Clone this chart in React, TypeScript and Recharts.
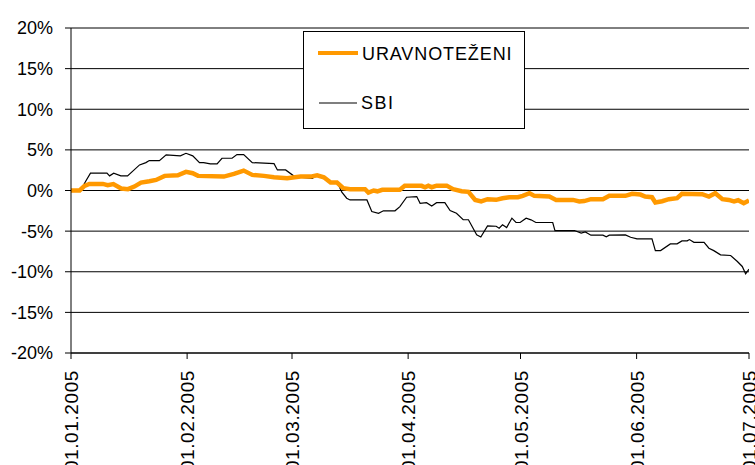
import React from 'react';
import { LineChart, Line, XAxis, YAxis, CartesianGrid, Legend } from 'recharts';

// Days since 01.01.2005 and cumulative returns (%)
const sbiDays = [
  0, 2.5, 4, 5.2, 9.6, 10.3, 11.4, 13.3, 15.1, 18.3,
  20, 20.9, 23.6, 25.4, 29.2, 30.7, 32.5, 34.3, 35.4, 37.2,
  39, 40.3, 43, 44.3, 46.1, 48.4, 54.2, 55.1, 57.3, 59.7,
  64.4, 65.7, 67.5, 69.3, 71, 72.3, 73.6, 74.5, 79, 80.3,
  82.1, 83.4, 86.5, 87.8, 89.6, 92.3, 93.2, 94.9, 96.3, 97.6,
  99.8, 101.2, 102.9, 104.7, 106.1, 108.3, 109.4, 111.2, 113.5, 114.3,
  115.2, 116.3, 117.7, 118.8, 119.9, 121.5, 122.8, 124.1, 128.6, 129.2,
  134.4, 136.2, 137.3, 138.8, 142, 142.9, 143.7, 148, 149.4, 151.1,
  155.1, 156, 157.4, 160, 161.8, 163.1, 164.5, 165.1, 166.3, 169,
  170.3, 171.6, 173.4, 176.1, 177.9, 179.2, 180.1, 181,
];
const sbiReturns = [
  0, 0, 1.2, 2.13, 2.13, 1.8, 2.13, 1.8, 1.8, 3.15,
  3.43, 3.68, 3.68, 4.38, 4.26, 4.58, 4.26, 3.43, 3.43, 3.27,
  3.27, 3.97, 3.97, 4.42, 4.42, 3.43, 3.3, 2.53, 2.53, 1.71,
  1.5, 1.88, 1.5, 1.1, 1.1, -0.2, -0.95, -1.16, -1.16, -2.59,
  -2.8, -2.5, -2.5, -1.98, -0.83, -0.75, -1.57, -1.5, -1.9, -1.5,
  -1.5, -2.47, -2.8, -3.6, -3.6, -5.46, -5.72, -4.35, -4.4, -4.64,
  -4.23, -4.56, -3.41, -3.94, -3.94, -3.41, -3.61, -3.94, -3.94, -4.93,
  -4.93, -5.25, -5.1, -5.5, -5.5, -5.7, -5.5, -5.46, -5.75, -5.95,
  -5.95, -7.39, -7.39, -6.57, -6.57, -6.2, -6.2, -6.04, -6.38, -6.38,
  -7.1, -7.4, -7.92, -8.0, -8.74, -9.35, -10.25, -9.68,
];

const uravDays = [
  0, 2.3, 3.6, 4.9, 8.5, 9.8, 11.3, 13.4, 15.2, 16.9,
  18.7, 20.9, 22.7, 25, 28.5, 30.7, 32.5, 33.9, 40.8, 43.5,
  46.1, 48.4, 51.5, 54.2, 57.7, 61.3, 64, 65.7, 67.5, 69.3,
  71, 72.7, 74.5, 78.5, 79.4, 80.8, 81.8, 83.1, 87.8, 89.1,
  93.6, 94.5, 95.4, 96.3, 97.6, 100.3, 102, 104.3, 106.1, 107.9,
  109.5, 111.2, 113.5, 115.2, 117, 119.3, 120.6, 122.4, 123.7, 127.7,
  129.5, 134, 135.7, 137, 138.8, 142, 143.7, 148, 149.8, 152,
  153.3, 155.1, 156, 157.8, 159.6, 161.8, 163.1, 168.5, 170.3, 172,
  173.9, 175.6, 177, 178.1, 179.6, 181,
];
const uravReturns = [
  0, 0, 0.57, 0.81, 0.81, 0.66, 0.8, 0.24, 0.16, 0.48,
  0.97, 1.14, 1.3, 1.8, 1.88, 2.29, 2.13, 1.8, 1.71, 2.04,
  2.45, 1.92, 1.8, 1.63, 1.51, 1.71, 1.71, 1.88, 1.63, 0.97,
  0.97, 0.28, 0.16, 0.16, -0.25, 0, -0.1, 0.08, 0.08, 0.57,
  0.57, 0.4, 0.6, 0.4, 0.6, 0.6, 0.16, -0.08, -0.16, -1.16,
  -1.35, -1.07, -1.15, -0.95, -0.83, -0.83, -0.66, -0.33, -0.66, -0.75,
  -1.16, -1.16, -1.35, -1.3, -1.07, -1.07, -0.66, -0.66, -0.41, -0.5,
  -0.75, -0.83, -1.48, -1.32, -1.07, -0.95, -0.41, -0.45, -0.75, -0.33,
  -1.07, -1.16, -1.35, -1.2, -1.57, -1.24,
];

const tickDays = [0, 31, 59, 90, 120, 151, 181];
const tickLabels = ['01.01.2005', '01.02.2005', '01.03.2005', '01.04.2005', '01.05.2005', '01.06.2005', '01.07.2005'];
const yTicks = [-20, -15, -10, -5, 0, 5, 10, 15, 20];

const seriesNames = ['URAVNOTEŽENI', 'SBI'];

const sbiData = sbiDays.map((d, i) => ({ d, v: sbiReturns[i] }));
const uravData = uravDays.map((d, i) => ({ d, v: uravReturns[i] }));

const FONT = '"Liberation Sans", Arial, sans-serif';
const ORANGE = '#FF9900';

const XTick = (props: any) => {
  const { x, y, payload } = props;
  const idx = tickDays.indexOf(payload.value);
  return (
    <g transform={`translate(${x},${y})`}>
      <text
        transform="rotate(-90)"
        x={-9}
        y={0}
        dy="0.38em"
        textAnchor="end"
        fill="#000"
        fontSize={19}
        letterSpacing={0.6}
        fontFamily={FONT}
      >
        {idx >= 0 ? tickLabels[idx] : ''}
      </text>
    </g>
  );
};

const LegendBox = () => (
  <svg width={222} height={98} style={{ display: 'block' }}>
    <rect x={0.5} y={0.5} width={221} height={97} fill="#fff" stroke="#000" strokeWidth={1} />
    <line x1={15} x2={55} y1={22} y2={22} stroke={ORANGE} strokeWidth={4} />
    <text x={59} y={29} fontSize={18} fontFamily={FONT} fill="#000" letterSpacing={0.9}>
      {seriesNames[0]}
    </text>
    <line x1={16} x2={54} y1={72} y2={72} stroke="#000" strokeWidth={1.2} />
    <text x={58} y={77.5} fontSize={18} fontFamily={FONT} fill="#000" letterSpacing={1.5}>
      {seriesNames[1]}
    </text>
  </svg>
);

export default function App() {
  return (
    <div style={{ position: 'absolute', left: 0, top: 0, width: 755, height: 465, background: '#fff', fontFamily: FONT }}>
      <LineChart width={755} height={465} margin={{ top: 28, right: 6, bottom: 0, left: 0 }}>
        <CartesianGrid horizontal vertical={false} stroke="#000" strokeWidth={1} />
        <XAxis
          dataKey="d"
          type="number"
          domain={[0, 181]}
          ticks={tickDays}
          interval={0}
          height={112}
          tick={<XTick />}
          tickSize={6}
          tickMargin={2}
          axisLine={{ stroke: '#000' }}
          tickLine={{ stroke: '#000' }}
          allowDataOverflow
        />
        <YAxis
          type="number"
          domain={[-20, 20]}
          ticks={yTicks}
          interval={0}
          width={71}
          tickSize={6}
          tickMargin={12}
          tickFormatter={(v: number) => `${v}%`}
          tick={{ fill: '#000', fontSize: 18, fontFamily: FONT }}
          axisLine={{ stroke: '#000' }}
          tickLine={{ stroke: '#000' }}
          allowDataOverflow
        />
        <Legend
          verticalAlign="middle"
          align="center"
          layout="horizontal"
          wrapperStyle={{ left: 303, top: 31, width: 222, height: 98 }}
          content={() => <LegendBox />}
        />
        <Line
          data={sbiData}
          dataKey="v"
          name={seriesNames[1]}
          type="linear"
          stroke="#000"
          strokeWidth={1.2}
          dot={false}
          activeDot={false}
          isAnimationActive={false}
        />
        <Line
          data={uravData}
          dataKey="v"
          name={seriesNames[0]}
          type="linear"
          stroke={ORANGE}
          strokeWidth={4.5}
          dot={false}
          activeDot={false}
          isAnimationActive={false}
        />
      </LineChart>
    </div>
  );
}
